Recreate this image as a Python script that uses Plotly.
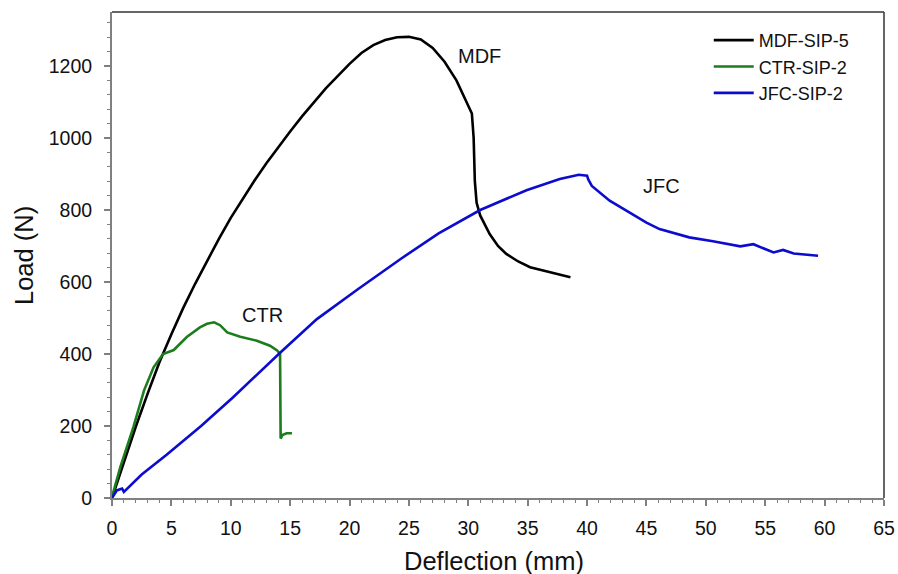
import plotly.graph_objects as go

# ---- data ----
mdf_x = [0, 1, 2, 3, 4, 5, 6, 7, 8, 9, 10, 11, 12, 13, 14, 15, 16, 17, 18, 19, 20,
         21, 22, 23, 24, 25, 26, 27, 28, 29, 29.7, 30.3, 30.45, 30.55, 30.7,
         31.0, 31.8, 32.5, 33.2, 34.2, 35.2, 36.2, 36.9, 38.0, 38.6]
mdf_y = [0, 100, 198, 290, 378, 455, 528, 595, 658, 720, 778, 832, 882, 930, 975, 1018,
         1060, 1100, 1138, 1172, 1206, 1236, 1258, 1272, 1280, 1281, 1274, 1250, 1212,
         1160, 1110, 1068, 1000, 880, 820, 785, 733, 700, 678, 657, 641, 632, 627, 618, 613]

ctr_x = [0, 0.7, 1.8, 2.7, 3.5, 4.3, 5.2, 6.3, 7.4, 8.0, 8.6, 9.1, 9.7, 10.8, 12.2,
         13.3, 13.9, 14.15, 14.2, 14.35, 14.7, 15.15]
ctr_y = [3, 86, 197, 299, 363, 400, 411, 447, 474, 484, 488, 480, 460, 448, 437,
         423, 410, 400, 165, 175, 180, 180]

jfc_x = [0, 0.4, 0.85, 1.0, 2.5, 4.6, 7.5, 10.2, 14.2, 17.25, 20.7, 24.3, 27.5, 31.0,
         34.9, 37.7, 39.3, 40.0, 40.1, 40.4, 41.9, 43.3, 45.0, 46.1, 48.6, 50.6, 52.9,
         54.0, 55.7, 56.5, 57.4, 59.45]
jfc_y = [0, 21, 26, 17, 65, 120, 200, 280, 405, 497, 580, 664, 735, 800, 855, 886, 898,
         895, 885, 867, 826, 798, 765, 747, 724, 713, 699, 705, 682, 689, 679, 673]

series_names = ["MDF-SIP-5", "CTR-SIP-2", "JFC-SIP-2"]
labels = ["MDF", "CTR", "JFC"]
label_x = [30.9, 12.7, 46.3]
label_y = [1228, 509, 867]

FONT = "Liberation Sans, Arial, sans-serif"

fig = go.Figure()
fig.add_trace(go.Scatter(x=mdf_x, y=mdf_y, mode="lines", name=series_names[0],
                         line=dict(color="#000000", width=2.6)))
fig.add_trace(go.Scatter(x=ctr_x, y=ctr_y, mode="lines", name=series_names[1],
                         line=dict(color="#1d7d1d", width=2.6)))
fig.add_trace(go.Scatter(x=jfc_x, y=jfc_y, mode="lines", name=series_names[2],
                         line=dict(color="#0c0cce", width=2.6)))

for t, x, y in zip(labels, label_x, label_y):
    fig.add_annotation(x=x, y=y, text=t, showarrow=False,
                       font=dict(family=FONT, size=20, color="#111"))

# axis titles placed as paper annotations
fig.add_annotation(xref="paper", yref="paper", x=0.495, y=-0.13, text="Deflection (mm)",
                   showarrow=False, xanchor="center", yanchor="middle",
                   font=dict(family=FONT, size=25.5, color="#111"))
fig.add_annotation(xref="paper", yref="paper", x=-0.114, y=0.5, text="Load (N)",
                   showarrow=False, xanchor="center", yanchor="middle", textangle=-90,
                   font=dict(family=FONT, size=25.5, color="#111"))

axis_common = dict(
    showgrid=False, zeroline=False, showline=True, linecolor="#808080", linewidth=2,
    ticks="outside", tickcolor="#808080", tickwidth=1.5, ticklen=6, automargin=False,
    tickfont=dict(family=FONT, size=19.5, color="#111"),
)
fig.update_xaxes(range=[0, 65], dtick=5, tick0=0,
                 minor=dict(dtick=1, ticks="outside", ticklen=3, tickcolor="#808080", tickwidth=1.2),
                 ticklabelstandoff=6,
                 **axis_common)
fig.update_yaxes(range=[0, 1350], dtick=200, tick0=0,
                 minor=dict(dtick=40, ticks="outside", ticklen=3, tickcolor="#808080", tickwidth=1.2),
                 ticklabelstandoff=8,
                 **axis_common)

# top and right frame lines
fig.add_shape(type="line", xref="paper", yref="paper", x0=0, x1=1, y0=1, y1=1,
              line=dict(color="#333333", width=1.5))
fig.add_shape(type="line", xref="paper", yref="paper", x0=1, x1=1, y0=0, y1=1,
              line=dict(color="#333333", width=1.5))

fig.update_layout(
    width=898, height=574,
    margin=dict(l=112, r=14, t=12, b=76),
    plot_bgcolor="white", paper_bgcolor="white",
    font=dict(family=FONT, color="#111"),
    showlegend=True,
    hovermode=False,
    legend=dict(x=0.773, y=0.887, xanchor="left", yanchor="middle",
                font=dict(family=FONT, size=18, color="#111"),
                bgcolor="rgba(0,0,0,0)", tracegroupgap=0, itemwidth=40),
)

# remove the default page margin so the figure sits at the window's top-left corner
fig.write_html("out.html", config={"displayModeBar": False},
               post_script="document.body.style.margin='0';document.body.style.overflow='hidden';")
